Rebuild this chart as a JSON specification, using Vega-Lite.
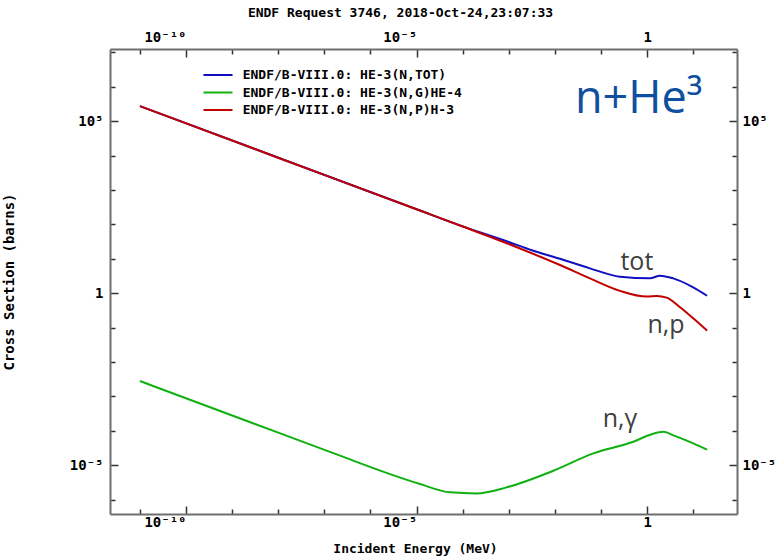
{
  "$schema": "https://vega.github.io/schema/vega-lite/v6.json",
  "width": 627,
  "height": 465,
  "autosize": {"type": "none"},
  "padding": {"left": 110, "top": 49, "right": 41, "bottom": 45},
  "background": "white",
  "title": {"text": "ENDF Request 3746, 2018-Oct-24,23:07:33", "font": "DejaVu Sans Mono", "fontSize": 13, "fontWeight": "bold", "color": "#000000", "anchor": "middle", "dx": -23, "offset": 10},
  "config": {
    "view": {"stroke": null},
    "axis": {
      "grid": false,
      "domainColor": "#6e6e6e",
      "domainWidth": 2,
      "tickColor": "#333333",
      "tickWidth": 1.5,
      "labelFont": "DejaVu Sans Mono",
      "labelFontSize": 14,
      "labelFontWeight": "bold",
      "labelColor": "#000000",
      "titleFont": "DejaVu Sans Mono",
      "titleFontSize": 13,
      "titleFontWeight": "bold",
      "titleColor": "#000000"
    },
    "legend": {
      "orient": "none",
      "legendX": 101,
      "legendY": 19,
      "symbolType": "M-2.5,0H2.5",
      "symbolSize": 135,
      "symbolStrokeWidth": 2,
      "symbolFillColor": "transparent",
      "labelFont": "DejaVu Sans Mono",
      "labelFontSize": 13,
      "labelFontWeight": "bold",
      "labelColor": "#000000",
      "labelLimit": 0,
      "labelOffset": 17.7,
      "rowPadding": 3.5
    }
  },
  "datasets": {
    "curves": [
      {"reaction": "ENDF/B-VIII.0: HE-3(N,TOT)", "E": 1e-11, "xs": 275000},
      {"reaction": "ENDF/B-VIII.0: HE-3(N,TOT)", "E": 1e-8, "xs": 8710},
      {"reaction": "ENDF/B-VIII.0: HE-3(N,TOT)", "E": 1e-5, "xs": 275},
      {"reaction": "ENDF/B-VIII.0: HE-3(N,TOT)", "E": 1e-4, "xs": 87.5},
      {"reaction": "ENDF/B-VIII.0: HE-3(N,TOT)", "E": 0.001, "xs": 30.9},
      {"reaction": "ENDF/B-VIII.0: HE-3(N,TOT)", "E": 0.00316, "xs": 17.8},
      {"reaction": "ENDF/B-VIII.0: HE-3(N,TOT)", "E": 0.0129, "xs": 10.0},
      {"reaction": "ENDF/B-VIII.0: HE-3(N,TOT)", "E": 0.0575, "xs": 5.28},
      {"reaction": "ENDF/B-VIII.0: HE-3(N,TOT)", "E": 0.258, "xs": 3.01},
      {"reaction": "ENDF/B-VIII.0: HE-3(N,TOT)", "E": 1.15, "xs": 2.70},
      {"reaction": "ENDF/B-VIII.0: HE-3(N,TOT)", "E": 1.9, "xs": 3.24},
      {"reaction": "ENDF/B-VIII.0: HE-3(N,TOT)", "E": 3.7, "xs": 2.70},
      {"reaction": "ENDF/B-VIII.0: HE-3(N,TOT)", "E": 10, "xs": 1.48},
      {"reaction": "ENDF/B-VIII.0: HE-3(N,TOT)", "E": 20, "xs": 0.843},
      {"reaction": "ENDF/B-VIII.0: HE-3(N,G)HE-4", "E": 1e-11, "xs": 0.00279},
      {"reaction": "ENDF/B-VIII.0: HE-3(N,G)HE-4", "E": 1e-8, "xs": 0.0000881},
      {"reaction": "ENDF/B-VIII.0: HE-3(N,G)HE-4", "E": 3.16e-7, "xs": 0.0000157},
      {"reaction": "ENDF/B-VIII.0: HE-3(N,G)HE-4", "E": 1.62e-6, "xs": 0.00000692},
      {"reaction": "ENDF/B-VIII.0: HE-3(N,G)HE-4", "E": 1.19e-5, "xs": 0.00000282},
      {"reaction": "ENDF/B-VIII.0: HE-3(N,G)HE-4", "E": 5.31e-5, "xs": 0.00000162},
      {"reaction": "ENDF/B-VIII.0: HE-3(N,G)HE-4", "E": 2.0e-4, "xs": 0.00000151},
      {"reaction": "ENDF/B-VIII.0: HE-3(N,G)HE-4", "E": 8.91e-4, "xs": 0.00000226},
      {"reaction": "ENDF/B-VIII.0: HE-3(N,G)HE-4", "E": 0.00923, "xs": 0.00000687},
      {"reaction": "ENDF/B-VIII.0: HE-3(N,G)HE-4", "E": 0.0681, "xs": 0.000022},
      {"reaction": "ENDF/B-VIII.0: HE-3(N,G)HE-4", "E": 0.501, "xs": 0.0000479},
      {"reaction": "ENDF/B-VIII.0: HE-3(N,G)HE-4", "E": 1.26, "xs": 0.0000794},
      {"reaction": "ENDF/B-VIII.0: HE-3(N,G)HE-4", "E": 2.24, "xs": 0.0000933},
      {"reaction": "ENDF/B-VIII.0: HE-3(N,G)HE-4", "E": 3.98, "xs": 0.0000708},
      {"reaction": "ENDF/B-VIII.0: HE-3(N,G)HE-4", "E": 10, "xs": 0.0000431},
      {"reaction": "ENDF/B-VIII.0: HE-3(N,G)HE-4", "E": 20, "xs": 0.0000282},
      {"reaction": "ENDF/B-VIII.0: HE-3(N,P)H-3", "E": 1e-11, "xs": 275000},
      {"reaction": "ENDF/B-VIII.0: HE-3(N,P)H-3", "E": 1e-8, "xs": 8710},
      {"reaction": "ENDF/B-VIII.0: HE-3(N,P)H-3", "E": 1e-5, "xs": 275},
      {"reaction": "ENDF/B-VIII.0: HE-3(N,P)H-3", "E": 1e-4, "xs": 87.1},
      {"reaction": "ENDF/B-VIII.0: HE-3(N,P)H-3", "E": 0.001, "xs": 26.9},
      {"reaction": "ENDF/B-VIII.0: HE-3(N,P)H-3", "E": 0.00316, "xs": 14.5},
      {"reaction": "ENDF/B-VIII.0: HE-3(N,P)H-3", "E": 0.0129, "xs": 6.6},
      {"reaction": "ENDF/B-VIII.0: HE-3(N,P)H-3", "E": 0.0575, "xs": 2.70},
      {"reaction": "ENDF/B-VIII.0: HE-3(N,P)H-3", "E": 0.258, "xs": 1.17},
      {"reaction": "ENDF/B-VIII.0: HE-3(N,P)H-3", "E": 0.98, "xs": 0.796},
      {"reaction": "ENDF/B-VIII.0: HE-3(N,P)H-3", "E": 1.61, "xs": 0.832},
      {"reaction": "ENDF/B-VIII.0: HE-3(N,P)H-3", "E": 2.66, "xs": 0.741},
      {"reaction": "ENDF/B-VIII.0: HE-3(N,P)H-3", "E": 5.18, "xs": 0.389},
      {"reaction": "ENDF/B-VIII.0: HE-3(N,P)H-3", "E": 10, "xs": 0.186},
      {"reaction": "ENDF/B-VIII.0: HE-3(N,P)H-3", "E": 20, "xs": 0.0813}
    ],
    "notes": [
      {"text": "tot", "E": 0.60, "xs": 4.71},
      {"text": "n,p", "E": 2.57, "xs": 0.069},
      {"text": "n,γ", "E": 0.258, "xs": 0.000129}
    ],
    "heading": [
      {"text": "n+He³", "E": 0.0273, "xs": 170000}
    ]
  },
  "layer": [
    {
      "data": {"name": "curves"},
      "transform": [{"filter": "datum.reaction == 'ENDF/B-VIII.0: HE-3(N,TOT)'"}],
      "mark": {"type": "line", "strokeWidth": 2, "interpolate": "monotone"},
      "encoding": {
        "x": {"field": "E", "type": "quantitative",
          "scale": {"type": "log", "domain": [2.24e-12, 89.1], "nice": false},
          "axis": {"orient": "bottom",
            "values": [1e-11, 1e-10, 1e-9, 1e-8, 1e-7, 1e-6, 1e-5, 1e-4, 1e-3, 1e-2, 1e-1, 1, 10],
            "labelExpr": "round(log(datum.value)/LN10) == -10 ? '10⁻¹⁰' : round(log(datum.value)/LN10) == -5 ? '10⁻⁵' : round(log(datum.value)/LN10) == 0 ? '1' : ''",
            "tickSize": {"condition": {"test": "round(log(datum.value)/LN10) % 5 == 0", "value": -8}, "value": -5},
            "labelAlign": {"condition": {"test": "datum.value == 1", "value": "center"}, "value": "right"},
            "labelPadding": 9,
            "title": "Incident Energy (MeV)",
            "titleX": 305, "titleY": 34, "titleBaseline": "middle", "titleAlign": "center"}},
        "y": {"field": "xs", "type": "quantitative",
          "scale": {"type": "log", "domain": [3.8e-7, 1.26e7], "nice": false},
          "axis": {"orient": "left",
            "values": [1e-6, 1e-5, 1e-4, 1e-3, 1e-2, 1e-1, 1, 10, 100, 1000, 1e4, 1e5, 1e6, 1e7],
            "labelExpr": "round(log(datum.value)/LN10) == 5 ? '10⁵' : round(log(datum.value)/LN10) == -5 ? '10⁻⁵' : round(log(datum.value)/LN10) == 0 ? '1' : ''",
            "tickSize": {"condition": {"test": "round(log(datum.value)/LN10) % 5 == 0", "value": -8}, "value": -5},
            "labelPadding": 15,
            "title": "Cross Section (barns)",
            "titleFontSize": 14,
            "titleX": -101, "titleY": 232.5, "titleAngle": -90, "titleBaseline": "middle", "titleAlign": "center"}},
        "color": {"field": "reaction", "type": "nominal",
          "scale": {"domain": ["ENDF/B-VIII.0: HE-3(N,TOT)", "ENDF/B-VIII.0: HE-3(N,G)HE-4", "ENDF/B-VIII.0: HE-3(N,P)H-3"], "range": ["#1010c0", "#10b010", "#c00000"]},
          "legend": {"title": null}}
      }
    },
    {
      "data": {"name": "curves"},
      "transform": [{"filter": "datum.reaction == 'ENDF/B-VIII.0: HE-3(N,G)HE-4'"}],
      "mark": {"type": "line", "strokeWidth": 2, "interpolate": "monotone"},
      "encoding": {
        "x": {"field": "E", "type": "quantitative",
          "scale": {"type": "log", "domain": [2.24e-12, 89.1], "nice": false},
          "axis": {"orient": "top",
            "values": [1e-11, 1e-10, 1e-9, 1e-8, 1e-7, 1e-6, 1e-5, 1e-4, 1e-3, 1e-2, 1e-1, 1, 10],
            "labelExpr": "round(log(datum.value)/LN10) == -10 ? '10⁻¹⁰' : round(log(datum.value)/LN10) == -5 ? '10⁻⁵' : round(log(datum.value)/LN10) == 0 ? '1' : ''",
            "tickSize": {"condition": {"test": "round(log(datum.value)/LN10) % 5 == 0", "value": -8}, "value": -5},
            "labelAlign": {"condition": {"test": "datum.value == 1", "value": "center"}, "value": "right"},
            "labelPadding": 13,
            "title": null}},
        "y": {"field": "xs", "type": "quantitative",
          "scale": {"type": "log", "domain": [3.8e-7, 1.26e7], "nice": false},
          "axis": {"orient": "right",
            "values": [1e-6, 1e-5, 1e-4, 1e-3, 1e-2, 1e-1, 1, 10, 100, 1000, 1e4, 1e5, 1e6, 1e7],
            "labelExpr": "round(log(datum.value)/LN10) == 5 ? '10⁵' : round(log(datum.value)/LN10) == -5 ? '10⁻⁵' : round(log(datum.value)/LN10) == 0 ? '1' : ''",
            "tickSize": {"condition": {"test": "round(log(datum.value)/LN10) % 5 == 0", "value": -8}, "value": -5},
            "labelPadding": 13,
            "title": null}},
        "color": {"field": "reaction", "type": "nominal",
          "scale": {"domain": ["ENDF/B-VIII.0: HE-3(N,TOT)", "ENDF/B-VIII.0: HE-3(N,G)HE-4", "ENDF/B-VIII.0: HE-3(N,P)H-3"], "range": ["#1010c0", "#10b010", "#c00000"]},
          "legend": {"title": null}}
      }
    },
    {
      "data": {"name": "curves"},
      "transform": [{"filter": "datum.reaction == 'ENDF/B-VIII.0: HE-3(N,P)H-3'"}],
      "mark": {"type": "line", "strokeWidth": 2, "interpolate": "monotone"},
      "encoding": {
        "x": {"field": "E", "type": "quantitative", "scale": {"type": "log", "domain": [2.24e-12, 89.1], "nice": false}, "axis": null},
        "y": {"field": "xs", "type": "quantitative", "scale": {"type": "log", "domain": [3.8e-7, 1.26e7], "nice": false}, "axis": null},
        "color": {"field": "reaction", "type": "nominal",
          "scale": {"domain": ["ENDF/B-VIII.0: HE-3(N,TOT)", "ENDF/B-VIII.0: HE-3(N,G)HE-4", "ENDF/B-VIII.0: HE-3(N,P)H-3"], "range": ["#1010c0", "#10b010", "#c00000"]},
          "legend": {"title": null}}
      }
    },
    {
      "data": {"name": "notes"},
      "mark": {"type": "text", "font": "Open Sans", "fontSize": 25, "color": "#404040", "align": "center", "baseline": "alphabetic"},
      "encoding": {
        "x": {"field": "E", "type": "quantitative", "scale": {"type": "log", "domain": [2.24e-12, 89.1], "nice": false}, "axis": null},
        "y": {"field": "xs", "type": "quantitative", "scale": {"type": "log", "domain": [3.8e-7, 1.26e7], "nice": false}, "axis": null},
        "text": {"field": "text"}
      }
    },
    {
      "data": {"name": "heading"},
      "mark": {"type": "text", "font": "Open Sans", "fontSize": 45, "color": "#0f4f9f", "align": "left", "baseline": "alphabetic"},
      "encoding": {
        "x": {"field": "E", "type": "quantitative", "scale": {"type": "log", "domain": [2.24e-12, 89.1], "nice": false}, "axis": null},
        "y": {"field": "xs", "type": "quantitative", "scale": {"type": "log", "domain": [3.8e-7, 1.26e7], "nice": false}, "axis": null},
        "text": {"field": "text"}
      }
    }
  ],
  "resolve": {"axis": {"x": "independent", "y": "independent"}}
}
